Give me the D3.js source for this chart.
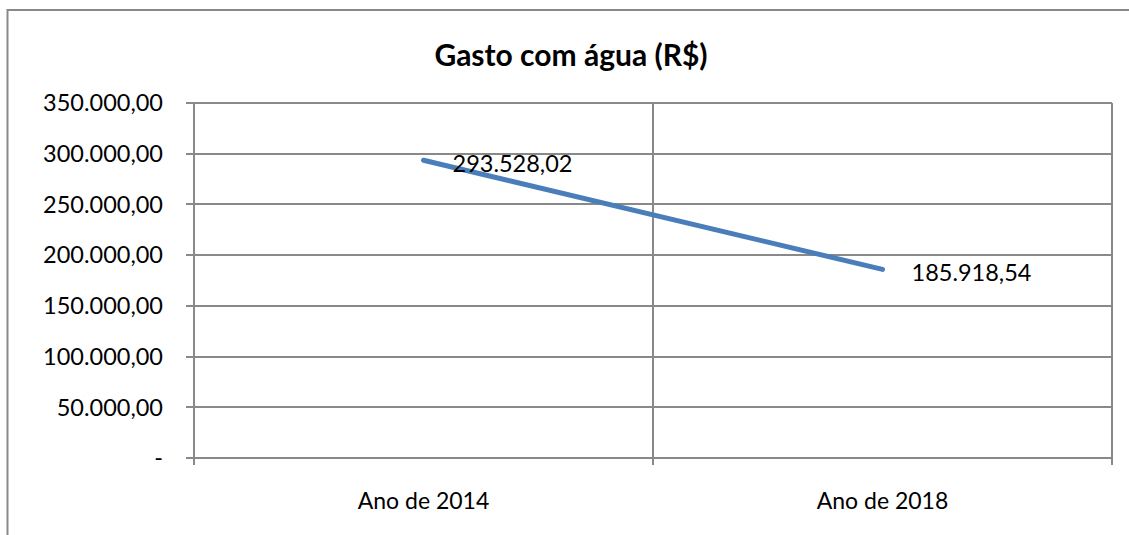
<!DOCTYPE html>
<html>
<head>
<meta charset="utf-8">
<script src="https://cdn.jsdelivr.net/npm/d3@7"></script>
<style>
  html, body { margin: 0; background: #fff; overflow: hidden; }
  svg { display: block; }
  svg text { font-family: Lato, "Open Sans", sans-serif; fill: #000; }
</style>
</head>
<body>
<svg id="chart"></svg>
<script>
// Chart data
const categories = ['Ano de 2014', 'Ano de 2018'];
const values = [293528.02, 185918.54];
const yTicks = [0, 50000, 100000, 150000, 200000, 250000, 300000, 350000];
const title = 'Gasto com água (R$)';

const width = 1129;
const height = 535;
const plot = { left: 194, right: 1112, top: 103, bottom: 458 };
const gridColor = '#898989';

// Brazilian number format: 350.000,00
const ptBR = d3.formatLocale({
  decimal: ',',
  thousands: '.',
  grouping: [3],
  currency: ['R$', '']
});
const fmt = ptBR.format(',.2f');
const tickFmt = (d) => (d === 0 ? '-' : fmt(d));

const svg = d3.select('#chart').attr('width', width).attr('height', height);

// Outer chart border: only the top and left edges fall inside the picture
svg.append('path')
  .attr('d', 'M7.5,' + height + 'V10H' + width)
  .attr('fill', 'none')
  .attr('stroke', gridColor)
  .attr('stroke-width', 2);

const x = d3.scaleBand()
  .domain(categories)
  .range([plot.left, plot.right])
  .paddingInner(0)
  .paddingOuter(0);

const y = d3.scaleLinear()
  .domain([0, 350000])
  .range([plot.bottom, plot.top]);

// Horizontal gridlines
svg.append('g')
  .selectAll('line')
  .data(yTicks)
  .enter()
  .append('line')
  .attr('x1', plot.left - 8)
  .attr('x2', plot.right)
  .attr('y1', (d) => Math.round(y(d)))
  .attr('y2', (d) => Math.round(y(d)))
  .attr('stroke', gridColor)
  .attr('stroke-width', 2);

// Vertical gridlines at category boundaries
const boundaries = categories.map((c) => x(c)).concat([plot.right]);
svg.append('g')
  .selectAll('line')
  .data(boundaries)
  .enter()
  .append('line')
  .attr('x1', (d) => d)
  .attr('x2', (d) => d)
  .attr('y1', plot.top)
  .attr('y2', plot.bottom + 7)
  .attr('stroke', gridColor)
  .attr('stroke-width', 2);

// Y tick labels
svg.append('g')
  .selectAll('text')
  .data(yTicks)
  .enter()
  .append('text')
  .attr('x', 163)
  .attr('y', (d) => y(d))
  .attr('dy', '0.35em')
  .attr('text-anchor', 'end')
  .style('font-size', '23.5px')
  .text(tickFmt);

// X category labels
svg.append('g')
  .selectAll('text')
  .data(categories)
  .enter()
  .append('text')
  .attr('x', (d) => x(d) + x.bandwidth() / 2)
  .attr('y', 501)
  .attr('dy', '0.35em')
  .attr('text-anchor', 'middle')
  .style('font-size', '23px')
  .text((d) => d);

// Title
svg.append('text')
  .attr('x', 571)
  .attr('y', 55)
  .attr('dy', '0.35em')
  .attr('text-anchor', 'middle')
  .style('font-size', '30px')
  .style('font-weight', 'bold')
  .text(title);

// Line series
const points = categories.map((c, i) => ({ cat: c, value: values[i] }));
const line = d3.line()
  .x((d) => x(d.cat) + x.bandwidth() / 2)
  .y((d) => y(d.value));

svg.append('path')
  .datum(points)
  .attr('d', line)
  .attr('fill', 'none')
  .attr('stroke', '#4a7ebb')
  .attr('stroke-width', 5)
  .attr('stroke-linecap', 'round');

// Data labels
svg.append('g')
  .selectAll('text')
  .data(points)
  .enter()
  .append('text')
  .attr('x', (d) => x(d.cat) + x.bandwidth() / 2 + 29)
  .attr('y', (d) => y(d.value) + 3)
  .attr('dy', '0.35em')
  .style('font-size', '23.5px')
  .text((d) => fmt(d.value));
</script>
</body>
</html>
